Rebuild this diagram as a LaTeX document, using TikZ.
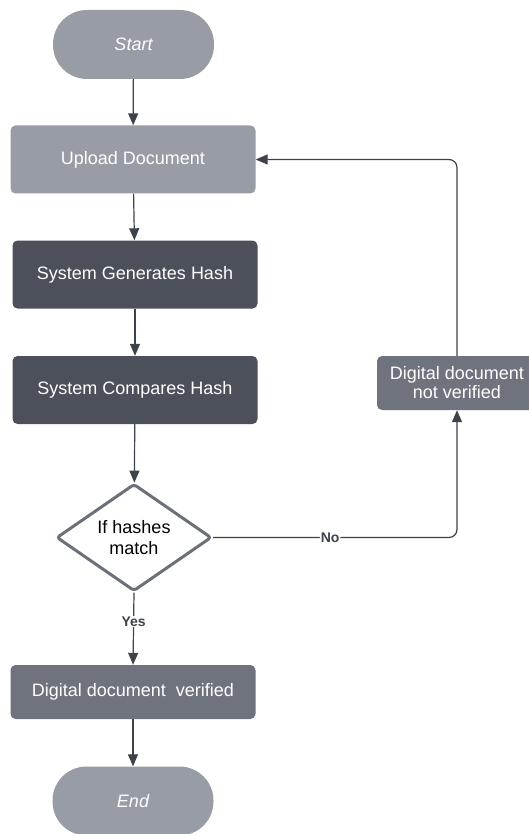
\documentclass[tikz,border=0pt]{standalone}
\usepackage{fontspec}
\setmainfont{Liberation Sans}
\usetikzlibrary{shapes.geometric,arrows.meta}
\definecolor{lightbox}{HTML}{989DA5}
\definecolor{darkbox}{HTML}{4B505A}
\definecolor{midbox}{HTML}{6E737E}
\definecolor{linecol}{HTML}{3D424B}
\definecolor{diacol}{HTML}{6B7079}
\tikzset{
  boxtext/.style={font=\fontsize{18}{21}\selectfont, text=white, align=center},
  term/.style={boxtext, rectangle, rounded corners=34pt, fill=lightbox, minimum width=161pt, minimum height=69pt, inner sep=0pt, font=\fontsize{18}{21}\selectfont\itshape},
  proc/.style={boxtext, rectangle, rounded corners=5pt, minimum width=245pt, minimum height=68pt, inner sep=0pt},
  decision/.style={diamond, draw=diacol, line width=3pt, rounded corners=3pt, fill=white, minimum width=155pt, minimum height=96pt, inner sep=0pt, align=center, text=black, font=\fontsize{18}{21}\selectfont},
  arr/.style={draw=linecol, line width=1.2pt, -{Triangle[length=12pt,width=10pt]}},
  lbl/.style={fill=white, text=linecol, font=\fontsize{14}{16}\selectfont\bfseries, inner sep=1pt}
}
\begin{document}
\begin{tikzpicture}[x=1pt,y=-1pt]
\useasboundingbox (0,0) rectangle (529,834);
\clip (0,0) rectangle (529,834);
\node[term] (start) at (133.5,44.5) {Start};
\node[proc, fill=lightbox] (upload) at (133,159.5) {Upload Document};
\node[proc, fill=darkbox] (gen) at (135,274.5) {System Generates Hash};
\node[proc, fill=darkbox] (cmp) at (135,390) {System Compares Hash};
\node[decision] (dec) at (134,537.5) {If hashes\\match};
\node[proc, fill=midbox, minimum height=54pt] (ver) at (133,692) {Digital document\ \ verified};
\node[term] (end) at (133,801) {End};
\node[proc, fill=midbox, minimum width=160pt, minimum height=54pt, font=\fontsize{18}{19}\selectfont] (nv) at (457,383) {Digital document\\not verified};

\draw[arr] (start) -- (upload);
\draw[arr] (upload) -- (gen);
\draw[arr] (gen) -- (cmp);
\draw[arr] (cmp) -- (dec);
\draw[arr] (dec.south) -- node[lbl, pos=0.4] {Yes} (ver.north);
\draw[arr] (ver) -- (end);
\draw[arr, rounded corners=8pt] (dec.east) -- node[lbl, pos=0.48] {No} (dec.east -| nv.south) -- (nv.south);
\draw[arr, rounded corners=8pt] (nv.north) |- (upload.east);
\end{tikzpicture}
\end{document}
